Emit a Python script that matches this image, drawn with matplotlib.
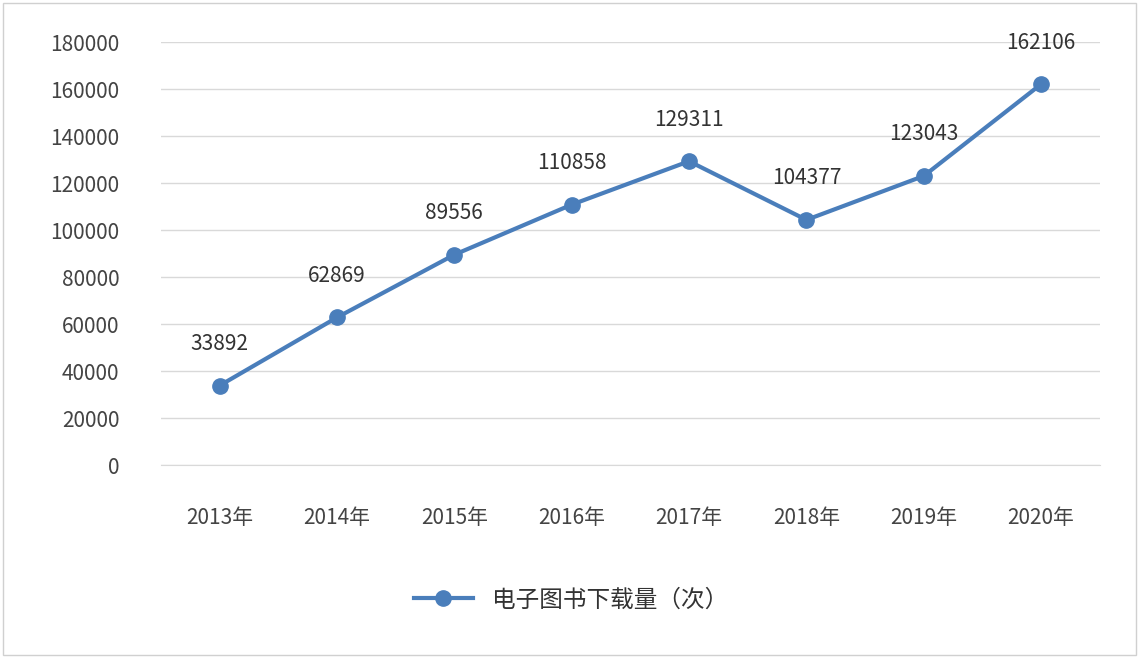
import matplotlib
matplotlib.use("Agg")
import matplotlib.pyplot as plt
from matplotlib.patches import Rectangle

plt.rcParams['font.family'] = ['Noto Sans CJK SC', 'DejaVu Sans']

years = ["2013年", "2014年", "2015年", "2016年", "2017年", "2018年", "2019年", "2020年"]
downloads = [33892, 62869, 89556, 110858, 129311, 104377, 123043, 162106]
series_name = "电子图书下载量（次）"

fig = plt.figure(figsize=(11.42, 6.58), dpi=100)
fig.patches.append(Rectangle((0.003, 0.005), 0.992, 0.99, transform=fig.transFigure,
                             fill=False, edgecolor="#d0d0d0", lw=1))
ax = fig.add_axes([0.141, 0.293, 0.822, 0.643])
x = list(range(len(years)))
color = "#4a7ebb"
ax.plot(x, downloads, color=color, lw=3, marker="o", ms=11, label=series_name)
for xi, v in zip(x, downloads):
    ax.annotate(str(v), (xi, v), xytext=(0, 22), textcoords="offset points",
                ha="center", va="bottom", fontsize=15, color="#333333")
ax.set_xlim(-0.5, 7.5)
ax.set_ylim(0, 180000)
ax.set_yticks(range(0, 180001, 20000))
ax.set_xticks(x)
ax.set_xticklabels(years)
ax.grid(axis="y", color="#d9d9d9", lw=1)
ax.set_axisbelow(True)
for s in ["top", "right", "left"]:
    ax.spines[s].set_visible(False)
ax.spines["bottom"].set_color("#d9d9d9")
ax.tick_params(length=0, labelsize=15, colors="#444444")
ax.tick_params(axis="x", pad=30)
ax.tick_params(axis="y", pad=30)
fig.legend(loc="center", bbox_to_anchor=(0.5, 0.088), frameon=False, fontsize=17,
           handlelength=2.5, labelcolor="#333333")
fig.savefig("out.png")
